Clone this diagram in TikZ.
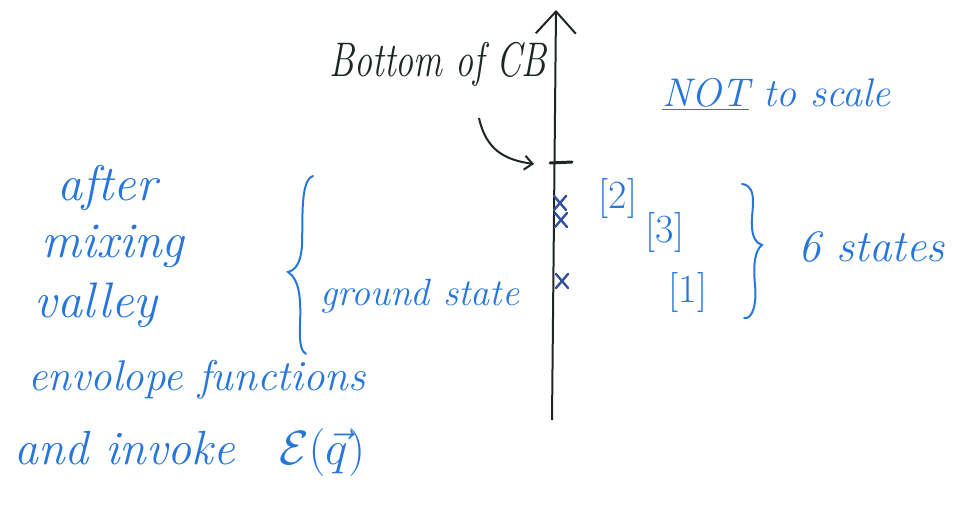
\documentclass[tikz,border=0pt]{standalone}
\usepackage{fix-cm}
\usetikzlibrary{arrows.meta,calc}
\definecolor{ink}{RGB}{38,118,220}
\definecolor{xink}{RGB}{50,80,160}
\definecolor{dark}{RGB}{30,38,34}
\tikzset{
  hand/.style={font=\itshape\fontsize{43}{47}\selectfont, text=ink, inner sep=0pt},
  handbig/.style={font=\itshape\fontsize{50}{54}\selectfont, text=ink, inner sep=0pt},
  lbl/.style={font=\fontsize{40}{44}\selectfont, text=ink, inner sep=0pt},
  pen/.style={ink, line width=2pt, line cap=round},
  crossmark/.style={xink, line width=2.4pt, line cap=round},
}
\begin{document}
\begin{tikzpicture}[x=1pt,y=-1pt]
\useasboundingbox (0,0) rectangle (953,525);
% axis
\coordinate (axbot) at (552,420);
\coordinate (axtop) at (556,10);
\draw[dark, line width=2pt, -{Straight Barb[length=22pt,width=40pt,line width=2pt]}] (axbot) -- (axtop);
% CB tick
\coordinate (tickL) at (550,163);
\coordinate (tickR) at (572,162);
\draw[dark, line width=3pt, line cap=round] (tickL) -- (tickR);
% Bottom of CB
\node[font=\itshape\fontsize{36}{40}\selectfont, text=dark, inner sep=0pt] (cb) at (438,64) {\scalebox{1}[1.35]{Bottom of CB}};
\coordinate (cbarrow) at (479,118);
\draw[dark, line width=2pt, -{Straight Barb[length=8pt,width=14pt,line width=2pt]}] (cbarrow) .. controls (486,150) and (505,160) .. (534,164);
% crosses
\foreach \n/\x/\y in {c1/560/203, c2/561/220, c3/562/281} {
  \coordinate (\n) at (\x,\y);
  \draw[crossmark] ($(\n)+(-6,-7)$) -- ($(\n)+(6,7)$) ($(\n)+(-6,7)$) -- ($(\n)+(6,-7)$);
}
% labels
\node[lbl] (l2) at (618,198) {[2]};
\node[lbl] (l3) at (665,232) {[3]};
\node[lbl] (l1) at (688,292) {[1]};
% right brace
\coordinate (rbtop) at (742,184);
\coordinate (rbmid) at (762,245);
\coordinate (rbbot) at (744,318);
\draw[pen] (rbtop) .. controls (760,186) and (750,215) .. (752,228) .. controls (753,238) and (756,243) .. (rbmid)
  .. controls (755,250) and (753,265) .. (755,285) .. controls (757,305) and (752,320) .. (rbbot);
\node[font=\itshape\fontsize{45}{48}\selectfont, text=ink, inner sep=0pt, anchor=west] (six) at (798,247) {6 states};
% NOT to scale
\node[font=\itshape\fontsize{40}{44}\selectfont, text=ink, inner sep=0pt, anchor=west] (nts) at (662,94) {\underline{NOT} to scale};
% left brace
\coordinate (lbtop) at (313,176);
\coordinate (lbmid) at (288,272);
\coordinate (lbbot) at (306,354);
\draw[pen] (lbtop) .. controls (300,180) and (303,220) .. (302,245) .. controls (301,262) and (296,270) .. (lbmid)
  .. controls (300,280) and (301,300) .. (300,325) .. controls (299,345) and (302,352) .. (lbbot);
\node[font=\itshape\fontsize{38}{42}\selectfont, text=ink, inner sep=0pt, anchor=west] (gs) at (320,296) {ground state};
% left text
\node[handbig] (t1) at (107,188) {after};
\node[handbig] (t2) at (113,246) {mixing};
\node[handbig] (t3) at (96,305) {valley};
\node[hand, anchor=west] (t4) at (28,380) {envolope functions};
\node[font=\itshape\fontsize{48}{52}\selectfont, text=ink, inner sep=0pt, anchor=west] (t5) at (14,452) {and invoke\hspace{44pt}$\mathcal{E}(\vec{q})$};
\end{tikzpicture}
\end{document}
